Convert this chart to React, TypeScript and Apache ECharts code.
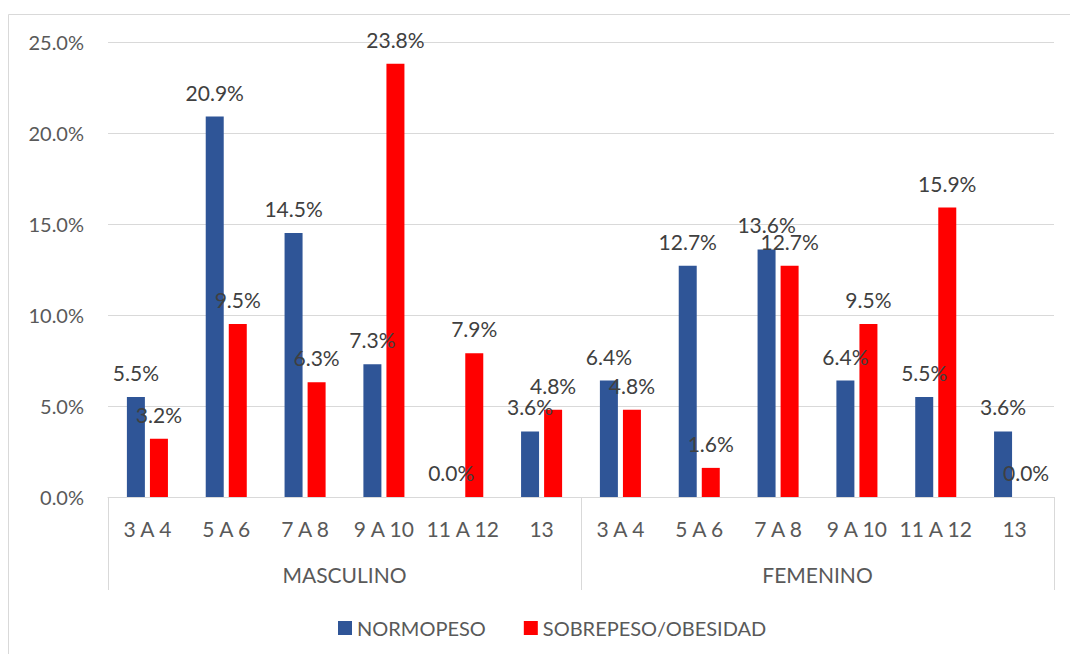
import React, { useEffect, useRef } from "react";
import * as echarts from "echarts";

// Age bands shown for each sex
const ageGroups = ["3 A 4", "5 A 6", "7 A 8", "9 A 10", "11 A 12", "13"];
const sexes = ["MASCULINO", "FEMENINO"];

// Percentages per age band
const normopesoMasc = [5.5, 20.9, 14.5, 7.3, 0.0, 3.6];
const normopesoFem = [6.4, 12.7, 13.6, 6.4, 5.5, 3.6];
const sobrepesoMasc = [3.2, 9.5, 6.3, 23.8, 7.9, 4.8];
const sobrepesoFem = [4.8, 1.6, 12.7, 9.5, 15.9, 0.0];

const seriesNames = ["NORMOPESO", "SOBREPESO/OBESIDAD"];
const yMin = 0;
const yMax = 25;
const yStep = 5;

const FONT = "Lato, 'Open Sans', sans-serif";
const AXIS_TEXT = "#595959";
const LABEL_TEXT = "#404040";
const GRID_GRAY = "#D9D9D9";

export default function App() {
  const ref = useRef<HTMLDivElement>(null);

  useEffect(() => {
    document.body.style.margin = "0";
    if (!ref.current) return;
    const chart = echarts.init(ref.current, undefined, { renderer: "svg" });

    // unique keys per (sex, age) pair, displayed as the age band only
    const categories = sexes.flatMap((s) => ageGroups.map((a) => `${s}|${a}`));
    const normopeso = [...normopesoMasc, ...normopesoFem];
    const sobrepeso = [...sobrepesoMasc, ...sobrepesoFem];

    const dataLabel = {
      show: true,
      position: "top" as const,
      distance: 14,
      color: LABEL_TEXT,
      fontFamily: FONT,
      fontSize: 21,
      formatter: (p: any) => `${Number(p.value).toFixed(1)}%`,
    };

    chart.setOption({
      animation: false,
      backgroundColor: "#ffffff",
      textStyle: { fontFamily: FONT },
      graphic: [
        {
          type: "rect",
          z: -10,
          silent: true,
          shape: { x: 8.5, y: 14.5, width: 1200, height: 800 },
          style: { fill: "none", stroke: GRID_GRAY, lineWidth: 1 },
        },
      ],
      grid: { left: 108, right: 16, top: 42, bottom: 157 },
      legend: {
        data: seriesNames,
        top: 613,
        left: 333,
        icon: "rect",
        itemWidth: 14,
        itemHeight: 14,
        itemGap: 38,
        textStyle: { color: AXIS_TEXT, fontSize: 20, fontFamily: FONT },
      },
      xAxis: [
        {
          type: "category",
          data: categories,
          position: "bottom",
          axisLine: { show: true, lineStyle: { color: GRID_GRAY, width: 1 } },
          axisTick: { show: false },
          axisLabel: {
            margin: 21,
            interval: 0,
            color: AXIS_TEXT,
            fontSize: 21,
            fontFamily: FONT,
            formatter: (v: string) => v.split("|")[1],
          },
          splitLine: { show: false },
        },
        {
          type: "category",
          data: sexes,
          position: "bottom",
          axisLine: { show: false },
          axisTick: {
            show: true,
            interval: 0,
            length: 93,
            lineStyle: { color: GRID_GRAY, width: 1 },
          },
          axisLabel: {
            margin: 67,
            interval: 0,
            color: AXIS_TEXT,
            fontSize: 21,
            fontFamily: FONT,
          },
          splitLine: { show: false },
        },
      ],
      yAxis: {
        type: "value",
        min: yMin,
        max: yMax,
        interval: yStep,
        axisLine: { show: false },
        axisTick: { show: false },
        axisLabel: {
          margin: 24,
          color: AXIS_TEXT,
          fontSize: 20,
          fontFamily: FONT,
          formatter: (v: number) => `${v.toFixed(1)}%`,
        },
        splitLine: { show: true, lineStyle: { color: GRID_GRAY, width: 1 } },
      },
      series: [
        {
          name: seriesNames[0],
          type: "bar",
          xAxisIndex: 0,
          data: normopeso,
          barWidth: 18,
          barGap: "28%",
          itemStyle: { color: "#2F5597" },
          label: dataLabel,
        },
        {
          name: seriesNames[1],
          type: "bar",
          xAxisIndex: 0,
          data: sobrepeso,
          barWidth: 18,
          barGap: "28%",
          itemStyle: { color: "#FF0000" },
          label: dataLabel,
        },
      ],
    });

    return () => chart.dispose();
  }, []);

  return <div ref={ref} style={{ width: 1070, height: 654 }} />;
}
